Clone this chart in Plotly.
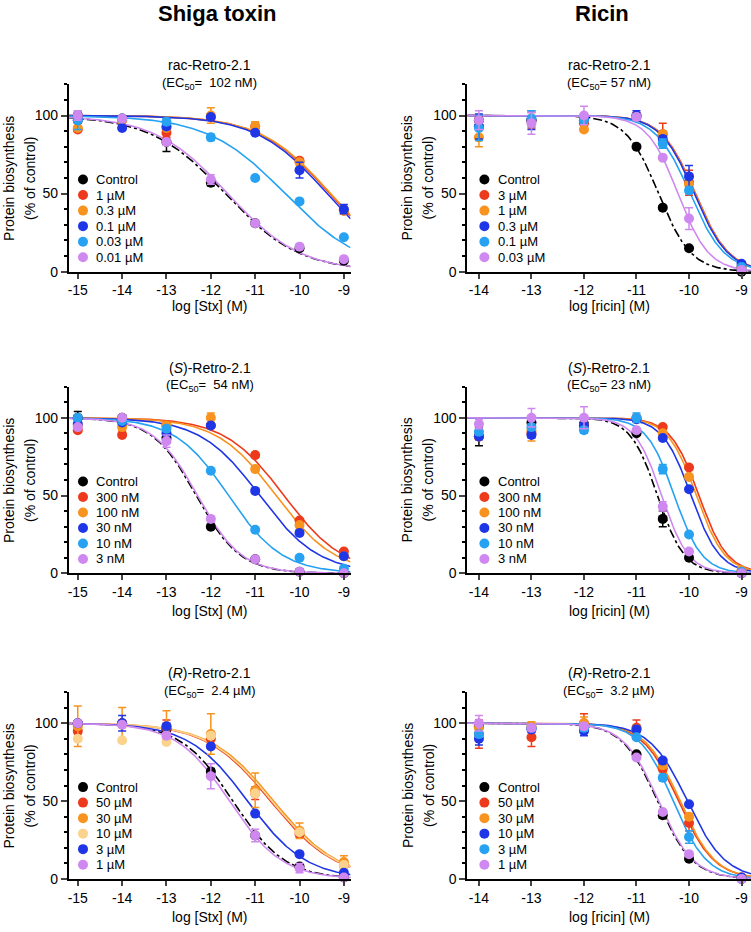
import numpy as np
import plotly.graph_objects as go

FONT = "Arial, Liberation Sans, sans-serif"
W, H = 751, 932

# log concentrations of toxin (M)
stx_x = [-15, -14, -13, -12, -11, -10, -9]
ricin_x = [-14, -13, -12, -11, -10.5, -10, -9]
stx_ticks = [-15, -14, -13, -12, -11, -10, -9]
stx_ticktext = ["-15", "-14", "-13", "-12", "-11", "-10", "-9"]
ricin_ticks = [-14, -13, -12, -11, -10, -9]
ricin_ticktext = ["-14", "-13", "-12", "-11", "-10", "-9"]

BLACK = "#000000"
RED = "#EE3A1C"
ORANGE = "#F7931E"
PALE = "#FBD38C"
BLUE = "#1F36E6"
LBLUE = "#27A2F2"
VIOLET = "#CF88F0"

# ---- rac-Retro-2.1 / Stx
rac_stx_names = ["Control", "1 µM", "0.3 µM", "0.1 µM", "0.03 µM", "0.01 µM"]
rac_stx_colors = [BLACK, RED, ORANGE, BLUE, LBLUE, VIOLET]
rac_stx_y = [[100, 98, 83, 57, 31, 15, 7],
             [91, 97, 89, 99, 93, 71, 39],
             [92, 97, 92, 100, 93, 70, 39],
             [97, 92, 93, 99, 89, 65, 40],
             [97, 98, 96, 86, 60, 45, 22],
             [100, 98, 83, 59, 31, 16, 8]]
rac_stx_err = [[2, 1, 6, 2, 1, 1, 1],
               [1, 1, 3, 2, 2, 1, 2],
               [1, 1, 1, 5, 3, 1, 1],
               [2, 1, 2, 1, 1, 5, 3],
               [6, 1, 2, 2, 1, 1, 1],
               [3, 1, 2, 3, 1, 1, 1]]
rac_stx_logec = [-11.68, -9.32, -9.30, -9.38, -10.33, -11.62]
rac_stx_hill = [0.52, 0.55, 0.55, 0.55, 0.5, 0.53]

# ---- rac-Retro-2.1 / ricin
rac_ric_names = ["Control", "3 µM", "1 µM", "0.3 µM", "0.1 µM", "0.03 µM"]
rac_ric_colors = [BLACK, RED, ORANGE, BLUE, LBLUE, VIOLET]
rac_ric_y = [[97, 97, 97, 80, 41, 15, 0],
             [93, 97, 95, 100, 88, 57, 3],
             [86, 97, 91, 99, 88, 56, 3],
             [93, 97, 98, 100, 85, 61, 5],
             [92, 98, 97, 99, 82, 52, 3],
             [97, 95, 100, 99, 73, 34, 1]]
rac_ric_err = [[2, 2, 2, 1, 1, 1, 1],
               [6, 5, 2, 2, 7, 8, 1],
               [6, 3, 1, 2, 2, 4, 1],
               [8, 6, 2, 3, 2, 7, 1],
               [8, 5, 2, 2, 3, 2, 1],
               [6, 7, 6, 2, 1, 7, 1]]
rac_ric_logec = [-10.58, -9.88, -9.89, -9.90, -9.98, -10.21]
rac_ric_hill = [1.4, 1.35, 1.35, 1.35, 1.32, 1.48]

# ---- (S)-Retro-2.1 / Stx
s_stx_names = ["Control", "300 nM", "100 nM", "30 nM", "10 nM", "3 nM"]
s_stx_colors = [BLACK, RED, ORANGE, BLUE, LBLUE, VIOLET]
s_stx_y = [[100, 100, 87, 30, 9, 1, 0],
           [92, 89, 95, 95, 76, 34, 14],
           [95, 94, 95, 100, 67, 31, 11],
           [96, 97, 90, 95, 53, 26, 11],
           [100, 98, 93, 66, 28, 10, 3],
           [94, 100, 85, 35, 9, 1, 0]]
s_stx_err = [[4, 1, 3, 1, 1, 1, 1],
             [1, 1, 1, 1, 1, 1, 1],
             [1, 2, 1, 3, 1, 1, 1],
             [1, 1, 1, 1, 1, 1, 1],
             [1, 1, 1, 1, 1, 1, 1],
             [1, 1, 4, 1, 1, 1, 1]]
s_stx_logec = [-12.33, -10.35, -10.53, -10.9, -11.6, -12.3]
s_stx_hill = [0.88, 0.65, 0.655, 0.65, 0.72, 0.88]

# ---- (S)-Retro-2.1 / ricin
s_ric_names = ["Control", "300 nM", "100 nM", "30 nM", "10 nM", "3 nM"]
s_ric_colors = [BLACK, RED, ORANGE, BLUE, LBLUE, VIOLET]
s_ric_y = [[88, 97, 96, 90, 35, 10, 0],
           [88, 90, 95, 100, 94, 68, 1],
           [88, 92, 95, 99, 90, 62, 2],
           [88, 89, 95, 99, 87, 54, 0],
           [91, 94, 92, 100, 67, 25, 1],
           [96, 100, 100, 92, 43, 14, 0]]
s_ric_err = [[6, 2, 2, 1, 5, 1, 1],
             [2, 2, 2, 1, 1, 1, 1],
             [2, 7, 2, 1, 1, 1, 1],
             [2, 2, 2, 1, 1, 1, 1],
             [2, 2, 2, 3, 3, 1, 1],
             [3, 6, 7, 1, 3, 1, 1]]
s_ric_logec = [-10.6, -9.81, -9.86, -9.96, -10.28, -10.52]
s_ric_hill = [1.7, 1.6, 1.6, 1.6, 1.65, 1.7]

# ---- (R)-Retro-2.1 / Stx
r_stx_names = ["Control", "50 µM", "30 µM", "10 µM", "3 µM", "1 µM"]
r_stx_colors = [BLACK, RED, ORANGE, PALE, BLUE, VIOLET]
r_stx_y = [[100, 100, 96, 69, 28, 8, 1],
           [95, 100, 97, 90, 55, 29, 9],
           [98, 99, 98, 93, 57, 31, 11],
           [90, 89, 88, 92, 55, 30, 9],
           [100, 100, 98, 85, 42, 16, 4],
           [100, 99, 92, 66, 28, 7, 1]]
r_stx_err = [[1, 1, 1, 2, 1, 1, 1],
             [2, 1, 5, 3, 4, 2, 2],
             [13, 11, 10, 13, 11, 5, 4],
             [1, 1, 1, 1, 1, 1, 1],
             [1, 5, 2, 1, 1, 1, 1],
             [1, 1, 2, 8, 4, 3, 1]]
r_stx_logec = [-11.5, -10.65, -10.58, -10.62, -11.17, -11.58]
r_stx_hill = [0.74, 0.6, 0.6, 0.6, 0.66, 0.735]

# ---- (R)-Retro-2.1 / ricin
r_ric_names = ["Control", "50 µM", "30 µM", "10 µM", "3 µM", "1 µM"]
r_ric_colors = [BLACK, RED, ORANGE, BLUE, LBLUE, VIOLET]
r_ric_y = [[98, 97, 98, 80, 41, 13, 0],
           [93, 91, 100, 97, 71, 36, 1],
           [97, 98, 100, 96, 73, 40, 1],
           [90, 96, 95, 96, 76, 48, 1],
           [93, 97, 97, 91, 65, 27, 0],
           [100, 97, 98, 78, 43, 16, 0]]
r_ric_err = [[2, 2, 2, 1, 2, 1, 1],
             [9, 6, 6, 5, 2, 5, 1],
             [2, 3, 4, 2, 2, 2, 1],
             [4, 2, 3, 2, 1, 1, 1],
             [2, 2, 2, 1, 2, 4, 1],
             [5, 2, 2, 1, 1, 1, 1]]
r_ric_logec = [-10.6, -10.2, -10.17, -10.03, -10.3, -10.58]
r_ric_hill = [1.3, 1.28, 1.3, 1.2, 1.35, 1.3]

panels = [
    ("rac-Retro-2.1", "(EC<sub>50</sub>=  102 nM)", "log [Stx] (M)", stx_x, stx_ticks, stx_ticktext,
     rac_stx_names, rac_stx_colors, rac_stx_y, rac_stx_err, rac_stx_logec, rac_stx_hill),
    ("rac-Retro-2.1", "(EC<sub>50</sub>= 57 nM)", "log [ricin] (M)", ricin_x, ricin_ticks, ricin_ticktext,
     rac_ric_names, rac_ric_colors, rac_ric_y, rac_ric_err, rac_ric_logec, rac_ric_hill),
    ("(<i>S</i>)-Retro-2.1", "(EC<sub>50</sub>=  54 nM)", "log [Stx] (M)", stx_x, stx_ticks, stx_ticktext,
     s_stx_names, s_stx_colors, s_stx_y, s_stx_err, s_stx_logec, s_stx_hill),
    ("(<i>S</i>)-Retro-2.1", "(EC<sub>50</sub>= 23 nM)", "log [ricin] (M)", ricin_x, ricin_ticks, ricin_ticktext,
     s_ric_names, s_ric_colors, s_ric_y, s_ric_err, s_ric_logec, s_ric_hill),
    ("(<i>R</i>)-Retro-2.1", "(EC<sub>50</sub>=  2.4 µM)", "log [Stx] (M)", stx_x, stx_ticks, stx_ticktext,
     r_stx_names, r_stx_colors, r_stx_y, r_stx_err, r_stx_logec, r_stx_hill),
    ("(<i>R</i>)-Retro-2.1", "(EC<sub>50</sub>=  3.2 µM)", "log [ricin] (M)", ricin_x, ricin_ticks, ricin_ticktext,
     r_ric_names, r_ric_colors, r_ric_y, r_ric_err, r_ric_logec, r_ric_hill),
]

# pixel layout of the grid
col_left = [68, 467]
col_right = [350, 751]
row_top = [85, 390, 698]
row_bot = [274, 578.3, 886.7]
xranges = {"stx": [-15.2, -8.85], "ricin": [-14.22, -8.82]}
xt_off = [35, 38, 38]


def px(v):
    return v / W


def py(v):
    return 1 - v / H


def note(text, x, y, size=14, **kw):
    d = dict(text=text, x=x, y=y, xref="paper", yref="paper", xanchor="center", yanchor="middle",
             showarrow=False, font=dict(family=FONT, size=size, color="black"))
    d.update(kw)
    return d


fig = go.Figure()
annotations = []
shapes = []
axis_font = dict(family=FONT, size=14, color="black")

for i, (title, ec50, xtitle, xs, tv, tt, names, colors, ys, errs, logec, hill) in enumerate(panels):
    r, c = i // 2, i % 2
    xa = "x" if i == 0 else "x%d" % (i + 1)
    ya = "y" if i == 0 else "y%d" % (i + 1)
    xr = xranges["stx"] if xs is stx_x else xranges["ricin"]

    # fitted dose-response curves (0-100 %) from read-off logEC50 / Hill slope
    xg = np.linspace(xr[0], xr[1], 300)
    for k in range(len(names)):
        yg = 100 / (1 + 10 ** ((xg - logec[k]) * hill[k]))
        fig.add_trace(go.Scatter(x=xg, y=yg, mode="lines", xaxis=xa, yaxis=ya, showlegend=False,
                                 line=dict(color=colors[k], width=1.6,
                                           dash="dashdot" if k == 0 else "solid"),
                                 hoverinfo="skip"))
    for k in range(len(names)):
        fig.add_trace(go.Scatter(x=xs, y=ys[k], mode="markers", name=names[k], xaxis=xa, yaxis=ya,
                                 showlegend=False, cliponaxis=False,
                                 marker=dict(color=colors[k], size=10),
                                 error_y=dict(type="data", array=errs[k], color=colors[k],
                                              thickness=1.5, width=4)))

    fig.update_layout(**{
        ("xaxis" if i == 0 else "xaxis%d" % (i + 1)): dict(
            domain=[px(col_left[c]), px(col_right[c])], range=xr, anchor=ya,
            tickvals=tv, ticktext=tt, ticks="outside", ticklen=5, tickwidth=1.5,
            showline=True, linewidth=2, linecolor="black", showgrid=False, zeroline=False,
            tickfont=axis_font),
        ("yaxis" if i == 0 else "yaxis%d" % (i + 1)): dict(
            domain=[py(row_bot[r]), py(row_top[r])], range=[0, 120], anchor=xa,
            tickvals=[0, 50, 100], ticks="outside", ticklen=6, tickwidth=1.5,
            minor=dict(ticks="outside", ticklen=3, tickwidth=1.5, dtick=10, tick0=0, tickcolor="black"),
            showline=True, linewidth=2, linecolor="black", showgrid=False, zeroline=False,
            tickfont=axis_font),
    })

    cx = (col_left[c] + col_right[c]) / 2
    annotations.append(note(title, px(cx), py(row_top[r] - 19)))
    annotations.append(note(ec50, px(cx), py(row_top[r] - 1), size=13))
    annotations.append(note(xtitle, px(cx), py(row_bot[r] + xt_off[r])))
    ymid = (row_top[r] + row_bot[r]) / 2
    annotations.append(note("Protein biosynthesis", px(col_left[c] - 60), py(ymid), textangle=-90))
    annotations.append(note("(% of control)", px(col_left[c] - 39), py(ymid), textangle=-90))

    # in-plot legend
    mk = 0.05 if c == 0 else 0.06
    for k in range(len(names)):
        yv = 59 - 9.95 * k
        shapes.append(dict(type="circle", xref=xa + " domain", yref=ya, xsizemode="pixel", ysizemode="pixel",
                           xanchor=mk, yanchor=yv, x0=-5, x1=5, y0=-5, y1=5,
                           fillcolor=colors[k], line=dict(width=0)))
        annotations.append(dict(text=names[k], x=mk + 0.04, y=yv, xref=xa + " domain", yref=ya,
                                xanchor="left", yanchor="middle", showarrow=False,
                                font=dict(family=FONT, size=13, color="black")))

annotations.append(note("<b>Shiga toxin</b>", px(217), 1.0, size=22, yanchor="top", borderpad=0))
annotations.append(note("<b>Ricin</b>", px(602), 1.0, size=22, yanchor="top", borderpad=0))

fig.update_layout(width=W, height=H, margin=dict(l=0, r=0, t=0, b=0),
                  paper_bgcolor="white", plot_bgcolor="white",
                  annotations=annotations, shapes=shapes, showlegend=False)
fig.write_html("out.html", config={"displayModeBar": False},
               post_script="document.body.style.margin = '0';")
